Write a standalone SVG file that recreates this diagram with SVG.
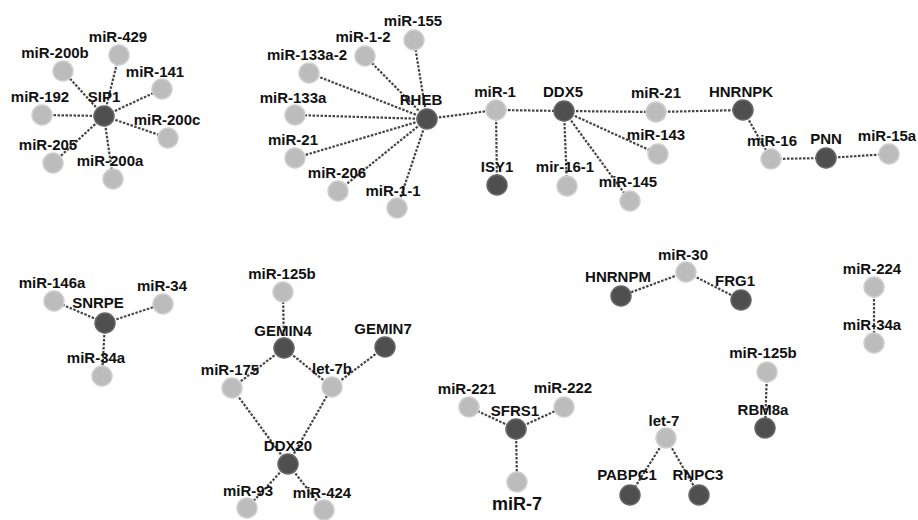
<svg xmlns="http://www.w3.org/2000/svg" width="918" height="520" viewBox="0 0 918 520">
<style>
.e{stroke:#444;stroke-width:2.2;stroke-dasharray:2.5,1.5;fill:none}
.m{fill:#bcbcbc;stroke:#cfcfcf;stroke-width:1.5}
.p{fill:#4f4f4f;stroke:#666;stroke-width:1.5}
text{font-family:"Liberation Sans",Arial,sans-serif;font-weight:bold;font-size:15px;fill:#111;text-anchor:middle}
.big{font-size:18px}
</style>
<rect width="918" height="520" fill="#ffffff"/>
<g id="edges">
<line class="e" x1="104" y1="116" x2="119" y2="55"/>
<line class="e" x1="104" y1="116" x2="63" y2="71"/>
<line class="e" x1="104" y1="116" x2="162" y2="89"/>
<line class="e" x1="104" y1="116" x2="42" y2="115"/>
<line class="e" x1="104" y1="116" x2="168" y2="138"/>
<line class="e" x1="104" y1="116" x2="53" y2="163"/>
<line class="e" x1="104" y1="116" x2="113" y2="179"/>
<line class="e" x1="427" y1="119" x2="414" y2="40"/>
<line class="e" x1="427" y1="119" x2="365" y2="56"/>
<line class="e" x1="427" y1="119" x2="309" y2="73"/>
<line class="e" x1="427" y1="119" x2="295" y2="115"/>
<line class="e" x1="427" y1="119" x2="295" y2="158"/>
<line class="e" x1="427" y1="119" x2="338" y2="191"/>
<line class="e" x1="427" y1="119" x2="397" y2="208"/>
<line class="e" x1="427" y1="119" x2="496" y2="110"/>
<line class="e" x1="496" y1="110" x2="564" y2="111"/>
<line class="e" x1="496" y1="110" x2="497" y2="185"/>
<line class="e" x1="564" y1="111" x2="656" y2="112"/>
<line class="e" x1="564" y1="111" x2="658" y2="154"/>
<line class="e" x1="564" y1="111" x2="567" y2="186"/>
<line class="e" x1="564" y1="111" x2="630" y2="201"/>
<line class="e" x1="656" y1="112" x2="743" y2="110"/>
<line class="e" x1="743" y1="110" x2="771" y2="159"/>
<line class="e" x1="771" y1="159" x2="826" y2="158"/>
<line class="e" x1="826" y1="158" x2="889" y2="154"/>
<line class="e" x1="105" y1="323" x2="54" y2="301"/>
<line class="e" x1="105" y1="323" x2="163" y2="304"/>
<line class="e" x1="105" y1="323" x2="102" y2="376"/>
<line class="e" x1="284" y1="348" x2="283" y2="292"/>
<line class="e" x1="284" y1="348" x2="232" y2="388"/>
<line class="e" x1="284" y1="348" x2="332" y2="387"/>
<line class="e" x1="385" y1="347" x2="332" y2="387"/>
<line class="e" x1="288" y1="464" x2="232" y2="388"/>
<line class="e" x1="288" y1="464" x2="332" y2="387"/>
<line class="e" x1="288" y1="464" x2="247" y2="508"/>
<line class="e" x1="288" y1="464" x2="324" y2="510"/>
<line class="e" x1="516" y1="429" x2="469" y2="407"/>
<line class="e" x1="516" y1="429" x2="564" y2="407"/>
<line class="e" x1="516" y1="429" x2="517" y2="482"/>
<line class="e" x1="686" y1="272" x2="621" y2="296"/>
<line class="e" x1="686" y1="272" x2="741" y2="300"/>
<line class="e" x1="874" y1="287" x2="874" y2="343"/>
<line class="e" x1="767" y1="372" x2="765" y2="428"/>
<line class="e" x1="666" y1="438" x2="630" y2="495"/>
<line class="e" x1="666" y1="438" x2="699" y2="495"/>
</g>
<g id="SIP1"><circle class="p" cx="104" cy="116" r="10"/><text x="104" y="102">SIP1</text></g>
<g id="miR-429"><circle class="m" cx="119" cy="55" r="10"/><text x="118" y="42">miR-429</text></g>
<g id="miR-200b"><circle class="m" cx="63" cy="71" r="10"/><text x="55" y="58">miR-200b</text></g>
<g id="miR-141"><circle class="m" cx="162" cy="89" r="10"/><text x="155" y="77">miR-141</text></g>
<g id="miR-192"><circle class="m" cx="42" cy="115" r="10"/><text x="40" y="102">miR-192</text></g>
<g id="miR-200c"><circle class="m" cx="168" cy="138" r="10"/><text x="167" y="125">miR-200c</text></g>
<g id="miR-205"><circle class="m" cx="53" cy="163" r="10"/><text x="48" y="150">miR-205</text></g>
<g id="miR-200a"><circle class="m" cx="113" cy="179" r="10"/><text x="110" y="166">miR-200a</text></g>
<g id="RHEB"><circle class="p" cx="427" cy="119" r="10"/><text x="421" y="105">RHEB</text></g>
<g id="miR-155"><circle class="m" cx="414" cy="40" r="10"/><text x="413" y="26">miR-155</text></g>
<g id="miR-1-2"><circle class="m" cx="365" cy="56" r="10"/><text x="363" y="42">miR-1-2</text></g>
<g id="miR-133a-2"><circle class="m" cx="309" cy="73" r="10"/><text x="307" y="60">miR-133a-2</text></g>
<g id="miR-133a"><circle class="m" cx="295" cy="115" r="10"/><text x="293" y="103">miR-133a</text></g>
<g id="miR-21a"><circle class="m" cx="295" cy="158" r="10"/><text x="293" y="145">miR-21</text></g>
<g id="miR-206"><circle class="m" cx="338" cy="191" r="10"/><text x="337" y="178">miR-206</text></g>
<g id="miR-1-1"><circle class="m" cx="397" cy="208" r="10"/><text x="393" y="196">miR-1-1</text></g>
<g id="miR-1"><circle class="m" cx="496" cy="110" r="10"/><text x="495" y="97">miR-1</text></g>
<g id="ISY1"><circle class="p" cx="497" cy="185" r="10"/><text x="497" y="172">ISY1</text></g>
<g id="DDX5"><circle class="p" cx="564" cy="111" r="10"/><text x="563" y="97">DDX5</text></g>
<g id="miR-21b"><circle class="m" cx="656" cy="112" r="10"/><text x="656" y="98">miR-21</text></g>
<g id="miR-143"><circle class="m" cx="658" cy="154" r="10"/><text x="656" y="140">miR-143</text></g>
<g id="mir-16-1"><circle class="m" cx="567" cy="186" r="10"/><text x="565" y="172">mir-16-1</text></g>
<g id="miR-145"><circle class="m" cx="630" cy="201" r="10"/><text x="628" y="187">miR-145</text></g>
<g id="HNRNPK"><circle class="p" cx="743" cy="110" r="10"/><text x="741" y="97">HNRNPK</text></g>
<g id="miR-16"><circle class="m" cx="771" cy="159" r="10"/><text x="772" y="146">miR-16</text></g>
<g id="PNN"><circle class="p" cx="826" cy="158" r="10"/><text x="826" y="144">PNN</text></g>
<g id="miR-15a"><circle class="m" cx="889" cy="154" r="10"/><text x="887" y="141">miR-15a</text></g>
<g id="SNRPE"><circle class="p" cx="105" cy="323" r="10"/><text x="98" y="308">SNRPE</text></g>
<g id="miR-146a"><circle class="m" cx="54" cy="301" r="10"/><text x="52" y="288">miR-146a</text></g>
<g id="miR-34"><circle class="m" cx="163" cy="304" r="10"/><text x="162" y="291">miR-34</text></g>
<g id="miR-34a"><circle class="m" cx="102" cy="376" r="10"/><text x="96" y="363">miR-34a</text></g>
<g id="miR-125b"><circle class="m" cx="283" cy="292" r="10"/><text x="282" y="279">miR-125b</text></g>
<g id="GEMIN4"><circle class="p" cx="284" cy="348" r="10"/><text x="283" y="336">GEMIN4</text></g>
<g id="GEMIN7"><circle class="p" cx="385" cy="347" r="10"/><text x="383" y="334">GEMIN7</text></g>
<g id="miR-175"><circle class="m" cx="232" cy="388" r="10"/><text x="230" y="375">miR-175</text></g>
<g id="let-7b"><circle class="m" cx="332" cy="387" r="10"/><text x="332" y="374">let-7b</text></g>
<g id="DDX20"><circle class="p" cx="288" cy="464" r="10"/><text x="288" y="451">DDX20</text></g>
<g id="miR-93"><circle class="m" cx="247" cy="508" r="10"/><text x="248" y="496">miR-93</text></g>
<g id="miR-424"><circle class="m" cx="324" cy="510" r="10"/><text x="322" y="498">miR-424</text></g>
<g id="SFRS1"><circle class="p" cx="516" cy="429" r="10"/><text x="515" y="416">SFRS1</text></g>
<g id="miR-221"><circle class="m" cx="469" cy="407" r="10"/><text x="467" y="394">miR-221</text></g>
<g id="miR-222"><circle class="m" cx="564" cy="407" r="10"/><text x="563" y="393">miR-222</text></g>
<g id="miR-7"><circle class="m" cx="517" cy="482" r="10"/><text class="big" x="517" y="510">miR-7</text></g>
<g id="miR-30"><circle class="m" cx="686" cy="272" r="10"/><text x="683" y="260">miR-30</text></g>
<g id="HNRNPM"><circle class="p" cx="621" cy="296" r="10"/><text x="618" y="282">HNRNPM</text></g>
<g id="FRG1"><circle class="p" cx="741" cy="300" r="10"/><text x="735" y="286">FRG1</text></g>
<g id="miR-224"><circle class="m" cx="874" cy="287" r="10"/><text x="872" y="274">miR-224</text></g>
<g id="miR-34a-2"><circle class="m" cx="874" cy="343" r="10"/><text x="872" y="330">miR-34a</text></g>
<g id="miR-125b-2"><circle class="m" cx="767" cy="372" r="10"/><text x="763" y="358">miR-125b</text></g>
<g id="RBM8a"><circle class="p" cx="765" cy="428" r="10"/><text x="763" y="415">RBM8a</text></g>
<g id="let-7"><circle class="m" cx="666" cy="438" r="10"/><text x="664" y="426">let-7</text></g>
<g id="PABPC1"><circle class="p" cx="630" cy="495" r="10"/><text x="627" y="480">PABPC1</text></g>
<g id="RNPC3"><circle class="p" cx="699" cy="495" r="10"/><text x="698" y="480">RNPC3</text></g>
</svg>
